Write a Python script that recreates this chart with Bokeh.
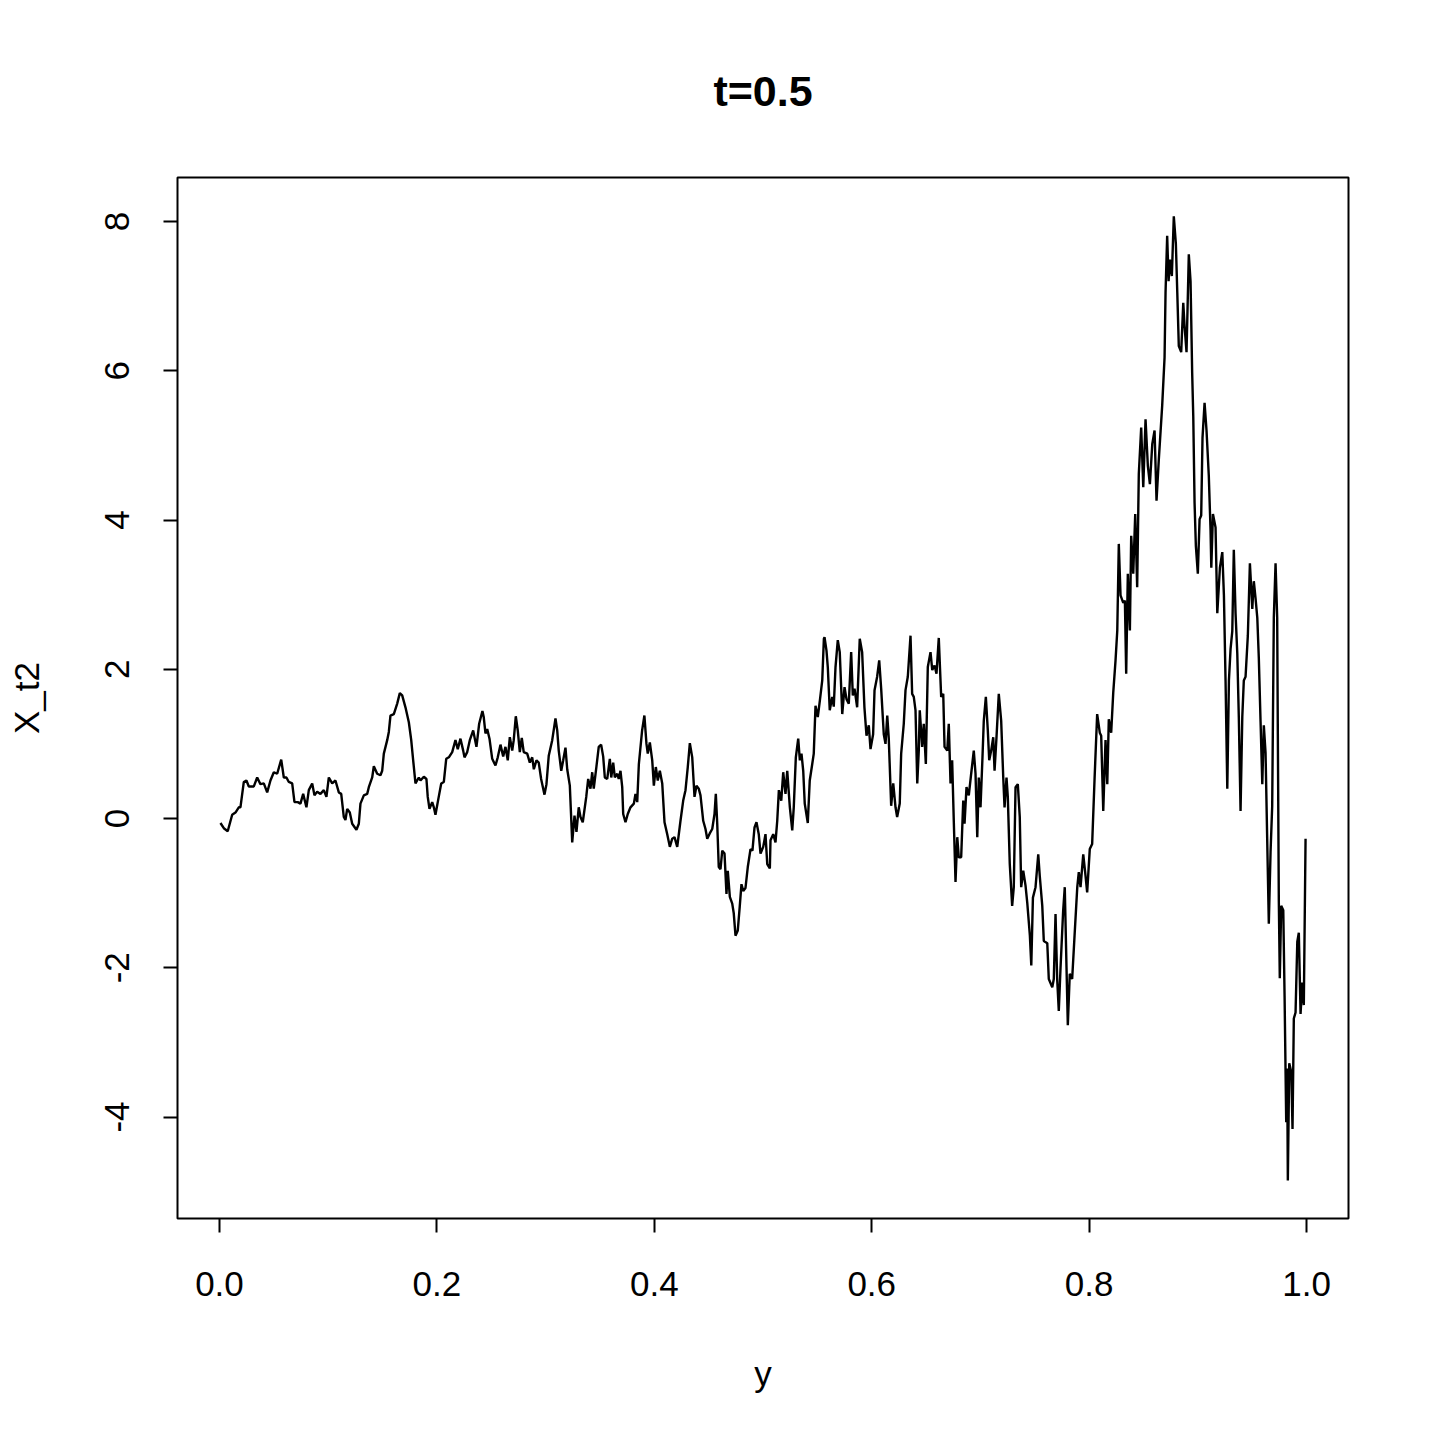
from bokeh.plotting import figure
from bokeh.models import ColumnDataSource, FixedTicker, Range1d
from bokeh.embed import file_html
from bokeh.resources import INLINE

# ---- data ----
x_vals = [
    0.0009, 0.0040, 0.0076, 0.0117, 0.0147, 0.0178, 0.0193, 0.0224, 0.0248, 0.0270,
    0.0316, 0.0347, 0.0377, 0.0408, 0.0439, 0.0469, 0.0500, 0.0531, 0.0568, 0.0592,
    0.0616, 0.0638, 0.0669, 0.0690, 0.0720, 0.0745, 0.0770, 0.0800, 0.0822, 0.0853,
    0.0874, 0.0899, 0.0929, 0.0960, 0.0984, 0.1006, 0.1037, 0.1067, 0.1098, 0.1120,
    0.1144, 0.1159, 0.1175, 0.1199, 0.1221, 0.1260, 0.1282, 0.1297, 0.1328, 0.1359,
    0.1374, 0.1405, 0.1420, 0.1451, 0.1481, 0.1497, 0.1512, 0.1543, 0.1558, 0.1573,
    0.1604, 0.1635, 0.1659, 0.1681, 0.1711, 0.1742, 0.1764, 0.1782, 0.1803, 0.1834,
    0.1849, 0.1880, 0.1904, 0.1916, 0.1932, 0.1957, 0.1972, 0.1987, 0.2017, 0.2040,
    0.2064, 0.2086, 0.2110, 0.2141, 0.2171, 0.2192, 0.2217, 0.2242, 0.2254, 0.2279,
    0.2303, 0.2334, 0.2364, 0.2389, 0.2419, 0.2431, 0.2447, 0.2463, 0.2484, 0.2509,
    0.2539, 0.2560, 0.2585, 0.2610, 0.2631, 0.2652, 0.2671, 0.2693, 0.2707, 0.2726,
    0.2744, 0.2763, 0.2781, 0.2799, 0.2831, 0.2855, 0.2877, 0.2892, 0.2916, 0.2937,
    0.2959, 0.2990, 0.3008, 0.3029, 0.3061, 0.3091, 0.3107, 0.3121, 0.3144, 0.3162,
    0.3183, 0.3199, 0.3223, 0.3245, 0.3266, 0.3284, 0.3305, 0.3321, 0.3342, 0.3374,
    0.3392, 0.3413, 0.3429, 0.3443, 0.3468, 0.3489, 0.3511, 0.3530, 0.3545, 0.3567,
    0.3591, 0.3604, 0.3622, 0.3637, 0.3659, 0.3673, 0.3689, 0.3705, 0.3714, 0.3735,
    0.3756, 0.3781, 0.3812, 0.3827, 0.3843, 0.3858, 0.3888, 0.3909, 0.3928, 0.3940,
    0.3959, 0.3981, 0.3996, 0.4014, 0.4032, 0.4051, 0.4073, 0.4094, 0.4119, 0.4143,
    0.4165, 0.4186, 0.4211, 0.4241, 0.4266, 0.4287, 0.4308, 0.4327, 0.4349, 0.4370,
    0.4388, 0.4409, 0.4425, 0.4450, 0.4471, 0.4487, 0.4510, 0.4533, 0.4554, 0.4566,
    0.4579, 0.4593, 0.4609, 0.4625, 0.4646, 0.4664, 0.4676, 0.4695, 0.4717, 0.4731,
    0.4747, 0.4768, 0.4786, 0.4802, 0.4818, 0.4839, 0.4860, 0.4885, 0.4903, 0.4922,
    0.4940, 0.4961, 0.4977, 0.5002, 0.5023, 0.5039, 0.5063, 0.5069, 0.5094, 0.5115,
    0.5131, 0.5146, 0.5168, 0.5186, 0.5207, 0.5223, 0.5247, 0.5269, 0.5283, 0.5302,
    0.5324, 0.5339, 0.5354, 0.5370, 0.5384, 0.5412, 0.5430, 0.5453, 0.5467, 0.5483,
    0.5504, 0.5523, 0.5545, 0.5560, 0.5566, 0.5584, 0.5596, 0.5614, 0.5637, 0.5651,
    0.5667, 0.5688, 0.5706, 0.5729, 0.5750, 0.5768, 0.5789, 0.5811, 0.5826, 0.5842,
    0.5866, 0.5890, 0.5912, 0.5933, 0.5952, 0.5973, 0.5989, 0.6013, 0.6026, 0.6050,
    0.6069, 0.6087, 0.6111, 0.6127, 0.6143, 0.6157, 0.6179, 0.6198, 0.6219, 0.6234,
    0.6258, 0.6271, 0.6295, 0.6311, 0.6332, 0.6357, 0.6372, 0.6387, 0.6403, 0.6419,
    0.6433, 0.6442, 0.6464, 0.6479, 0.6498, 0.6516, 0.6541, 0.6557, 0.6578, 0.6596,
    0.6617, 0.6639, 0.6658, 0.6670, 0.6695, 0.6709, 0.6725, 0.6740, 0.6755, 0.6771,
    0.6787, 0.6801, 0.6823, 0.6842, 0.6854, 0.6872, 0.6893, 0.6915, 0.6939, 0.6955,
    0.6971, 0.6985, 0.7001, 0.7019, 0.7031, 0.7050, 0.7068, 0.7081, 0.7099, 0.7118,
    0.7130, 0.7148, 0.7169, 0.7191, 0.7210, 0.7222, 0.7240, 0.7252, 0.7270, 0.7292,
    0.7307, 0.7323, 0.7344, 0.7362, 0.7375, 0.7394, 0.7415, 0.7431, 0.7455, 0.7468,
    0.7483, 0.7507, 0.7532, 0.7546, 0.7569, 0.7583, 0.7615, 0.7629, 0.7661, 0.7675,
    0.7691, 0.7706, 0.7721, 0.7737, 0.7761, 0.7776, 0.7792, 0.7804, 0.7822, 0.7844,
    0.7866, 0.7891, 0.7905, 0.7921, 0.7946, 0.7967, 0.7982, 0.8006, 0.8028, 0.8050,
    0.8074, 0.8098, 0.8111, 0.8130, 0.8151, 0.8167, 0.8181, 0.8203, 0.8222, 0.8243,
    0.8259, 0.8273, 0.8289, 0.8314, 0.8329, 0.8341, 0.8356, 0.8375, 0.8387, 0.8406,
    0.8424, 0.8442, 0.8457, 0.8479, 0.8498, 0.8519, 0.8540, 0.8559, 0.8581, 0.8602,
    0.8620, 0.8641, 0.8672, 0.8694, 0.8703, 0.8718, 0.8731, 0.8743, 0.8761, 0.8779,
    0.8798, 0.8811, 0.8825, 0.8847, 0.8866, 0.8878, 0.8896, 0.8917, 0.8933, 0.8948,
    0.8958, 0.8970, 0.8982, 0.9000, 0.9016, 0.9031, 0.9043, 0.9062, 0.9080, 0.9101,
    0.9117, 0.9124, 0.9139, 0.9163, 0.9179, 0.9203, 0.9225, 0.9240, 0.9255, 0.9271,
    0.9286, 0.9301, 0.9317, 0.9331, 0.9347, 0.9363, 0.9377, 0.9393, 0.9409, 0.9423,
    0.9439, 0.9460, 0.9479, 0.9501, 0.9515, 0.9531, 0.9547, 0.9561, 0.9577, 0.9593,
    0.9607, 0.9623, 0.9638, 0.9653, 0.9669, 0.9684, 0.9699, 0.9715, 0.9730, 0.9736,
    0.9745, 0.9754, 0.9767, 0.9786, 0.9798, 0.9813, 0.9822, 0.9828, 0.9841, 0.9860,
    0.9871, 0.9883, 0.9899, 0.9915, 0.9929, 0.9945, 0.9961, 0.9975, 0.9991,
]

x_t2_vals = [
    -0.06, -0.13, -0.17, 0.05, 0.08, 0.15, 0.15, 0.49, 0.51, 0.43,
    0.43, 0.55, 0.46, 0.47, 0.35, 0.51, 0.62, 0.60, 0.79, 0.55,
    0.55, 0.49, 0.47, 0.22, 0.22, 0.20, 0.33, 0.15, 0.38, 0.47,
    0.31, 0.36, 0.33, 0.38, 0.29, 0.55, 0.47, 0.51, 0.35, 0.33,
    0.02, -0.02, 0.13, 0.08, -0.07, -0.15, -0.07, 0.20, 0.31, 0.33,
    0.42, 0.55, 0.70, 0.60, 0.58, 0.64, 0.87, 1.05, 1.16, 1.38,
    1.40, 1.54, 1.68, 1.65, 1.49, 1.29, 1.05, 0.78, 0.47, 0.55,
    0.51, 0.56, 0.53, 0.29, 0.13, 0.22, 0.15, 0.05, 0.29, 0.47,
    0.49, 0.80, 0.82, 0.89, 1.05, 0.93, 1.07, 0.91, 0.82, 0.89,
    1.05, 1.18, 0.96, 1.27, 1.44, 1.36, 1.14, 1.20, 1.07, 0.80,
    0.71, 0.82, 0.99, 0.83, 0.96, 0.78, 1.09, 0.91, 1.05, 1.37,
    1.18, 0.89, 1.08, 0.89, 0.87, 0.75, 0.82, 0.66, 0.78, 0.75,
    0.53, 0.32, 0.46, 0.84, 1.05, 1.34, 1.18, 0.91, 0.64, 0.78,
    0.95, 0.66, 0.44, -0.32, 0.04, -0.18, 0.15, 0.02, -0.05, 0.29,
    0.53, 0.40, 0.62, 0.40, 0.70, 0.96, 0.99, 0.83, 0.55, 0.53,
    0.80, 0.55, 0.75, 0.55, 0.60, 0.53, 0.64, 0.42, 0.06, -0.05,
    0.06, 0.15, 0.20, 0.33, 0.22, 0.73, 1.18, 1.38, 1.00, 0.87,
    1.02, 0.78, 0.44, 0.69, 0.51, 0.64, 0.47, -0.05, -0.21, -0.38,
    -0.27, -0.25, -0.38, -0.03, 0.24, 0.38, 0.69, 1.01, 0.82, 0.29,
    0.44, 0.40, 0.31, -0.03, -0.14, -0.27, -0.20, -0.14, 0.06, 0.33,
    -0.07, -0.65, -0.68, -0.43, -0.47, -1.01, -0.70, -1.05, -1.14, -1.27,
    -1.57, -1.50, -1.18, -0.88, -0.97, -0.93, -0.65, -0.41, -0.43, -0.12,
    -0.05, -0.21, -0.47, -0.38, -0.21, -0.61, -0.67, -0.29, -0.21, -0.32,
    -0.03, 0.38, 0.24, 0.62, 0.33, 0.64, 0.15, -0.16, 0.15, 0.82,
    1.07, 0.78, 0.87, 0.64, 0.20, -0.06, 0.51, 0.73, 0.87, 1.51,
    1.36, 1.58, 1.85, 2.41, 2.43, 2.25, 2.03, 1.45, 1.63, 1.50,
    2.03, 2.39, 2.23, 1.40, 1.76, 1.60, 1.54, 2.23, 1.65, 1.74,
    1.49, 2.41, 2.23, 1.49, 1.11, 1.25, 0.93, 1.13, 1.72, 1.90,
    2.12, 1.74, 1.13, 1.00, 1.38, 1.07, 0.17, 0.47, 0.15, 0.02,
    0.20, 0.87, 1.27, 1.72, 1.90, 2.45, 1.67, 1.63, 1.45, 0.47,
    0.91, 1.45, 0.96, 1.27, 0.73, 2.03, 2.23, 1.99, 2.05, 1.94,
    2.42, 1.63, 1.67, 0.96, 0.91, 1.27, 0.47, 0.78, -0.03, -0.85,
    -0.25, -0.52, -0.52, 0.24, -0.07, 0.42, 0.31, 0.60, 0.91, 0.60,
    -0.25, 0.55, 0.15, 0.82, 1.31, 1.63, 1.18, 0.78, 0.91, 1.09,
    0.64, 1.09, 1.67, 1.31, 0.55, 0.15, 0.55, 0.29, -0.61, -1.17,
    -0.92, 0.42, 0.46, 0.02, -0.92, -0.70, -0.90, -1.13, -1.57, -1.97,
    -1.06, -0.92, -0.48, -0.77, -1.17, -1.64, -1.67, -2.15, -2.26, -2.15,
    -1.28, -2.15, -2.58, -2.00, -1.24, -0.92, -2.00, -2.77, -2.08, -2.15,
    -1.57, -0.92, -0.72, -0.92, -0.48, -0.77, -0.99, -0.41, -0.34, 0.53,
    1.40, 1.15, 1.11, 0.10, 1.05, 0.46, 1.33, 1.15, 1.69, 2.12,
    2.52, 3.68, 2.99, 2.89, 2.92, 1.94, 3.28, 2.52, 3.79, 3.28,
    4.08, 3.10, 4.62, 5.24, 4.44, 5.35, 4.73, 4.48, 5.02, 5.20,
    4.26, 4.81, 5.53, 6.18, 7.05, 7.81, 7.20, 7.49, 7.27, 8.07,
    7.70, 7.05, 6.33, 6.25, 6.91, 6.60, 6.25, 7.56, 7.20, 5.97,
    5.39, 4.23, 3.65, 3.28, 4.01, 4.06, 5.10, 5.57, 5.20, 4.59,
    3.86, 3.36, 4.08, 3.90, 2.75, 3.36, 3.57, 2.99, 1.85, 0.40,
    1.85, 2.27, 2.51, 3.60, 2.75, 2.21, 1.36, 0.10, 1.36, 1.85,
    1.90, 2.45, 3.42, 2.81, 3.18, 2.95, 2.69, 2.15, 1.30, 0.46,
    1.25, 0.88, -0.27, -1.41, -0.45, 0.16, 2.69, 3.42, 2.69, 1.13,
    -1.11, -2.14, -1.17, -1.23, -2.38, -4.07, -3.35, -4.85, -3.28, -3.40,
    -4.16, -2.68, -2.60, -1.65, -1.53, -2.62, -2.20, -2.50, -0.27,
]

x_ticks = [0.0, 0.2, 0.4, 0.6, 0.8, 1.0]
x_tick_labels = ["0.0", "0.2", "0.4", "0.6", "0.8", "1.0"]
y_ticks = [-4, -2, 0, 2, 4, 6, 8]
y_tick_labels = ["-4", "-2", "0", "2", "4", "6", "8"]

title_text = "t=0.5"
x_label = "y"
y_label = "X_t2"

FONT = "Liberation Sans"

source = ColumnDataSource(data=dict(x=x_vals, y=x_t2_vals))

p = figure(
    width=1424, height=1424,
    output_backend="svg", toolbar_location=None,
    x_range=Range1d(-0.0386, 1.0386),
    y_range=Range1d(-5.36, 8.59),
    min_border_left=177, min_border_right=76,
    min_border_top=177, min_border_bottom=206,
    title=title_text,
)

p.background_fill_color = "white"
p.border_fill_color = "white"
p.outline_line_color = "black"
p.outline_line_width = 2
p.xgrid.visible = False
p.ygrid.visible = False

p.title.align = "center"
p.title.text_font = FONT
p.title.text_font_size = "43px"
p.title.text_font_style = "bold"
p.title.text_color = "black"
p.title.standoff = 125

p.line("x", "y", source=source, line_color="black", line_width=2.4)

for ax in (p.xaxis[0], p.yaxis[0]):
    ax.axis_line_color = None
    ax.major_tick_line_color = "black"
    ax.major_tick_line_width = 2
    ax.major_tick_out = 14
    ax.major_tick_in = 0
    ax.minor_tick_line_color = None
    ax.major_label_text_font = FONT
    ax.major_label_text_font_size = "35px"
    ax.major_label_text_color = "black"
    ax.axis_label_text_font = FONT
    ax.axis_label_text_font_size = "35px"
    ax.axis_label_text_font_style = "normal"
    ax.axis_label_text_color = "black"

p.xaxis[0].ticker = FixedTicker(ticks=x_ticks)
p.xaxis[0].major_label_overrides = {t: l for t, l in zip(x_ticks, x_tick_labels)}
p.xaxis[0].axis_label = x_label
p.xaxis[0].major_label_standoff = 39
p.xaxis[0].axis_label_standoff = 55

p.yaxis[0].ticker = FixedTicker(ticks=y_ticks)
p.yaxis[0].major_label_overrides = {t: l for t, l in zip(y_ticks, y_tick_labels)}
p.yaxis[0].major_label_orientation = "vertical"
p.yaxis[0].axis_label = y_label
p.yaxis[0].major_label_standoff = 34
p.yaxis[0].axis_label_standoff = 57

open("out.html", "w").write(file_html(p, INLINE))
